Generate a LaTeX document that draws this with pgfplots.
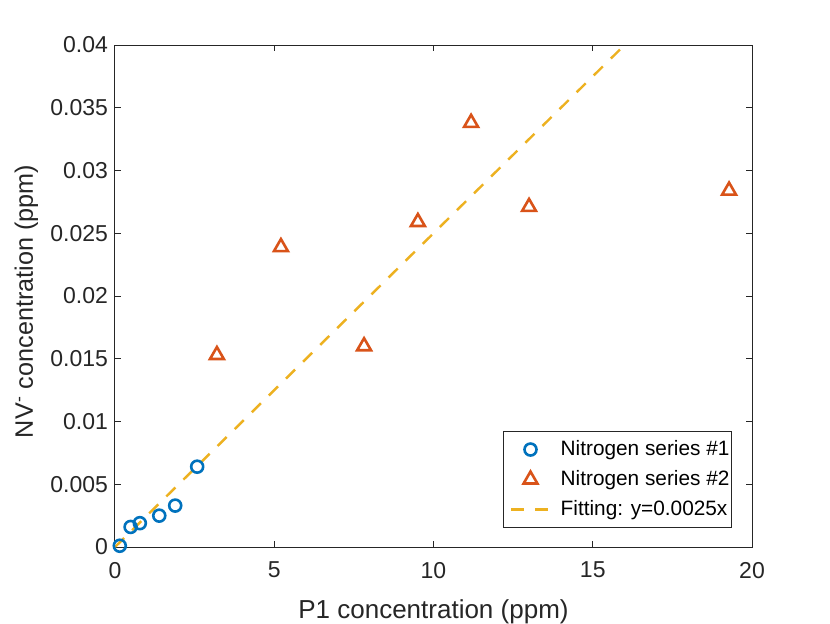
\documentclass[border=0pt]{standalone}
\usepackage{pgfplots}
\pgfplotsset{compat=1.18}
\usepackage{fontspec}
\setmainfont{Liberation Sans}
\definecolor{mblue}{rgb}{0,0.447,0.741}
\definecolor{morange}{rgb}{0.850,0.325,0.098}
\definecolor{myellow}{rgb}{0.929,0.694,0.125}
\definecolor{axgray}{rgb}{0.15,0.15,0.15}
\pgfplotsset{
  marklegend/.style={legend image code/.code={%
    \path[draw=none,fill=none] (-2.5pt,0pt) -- (20.5pt,0pt);
    \draw plot[only marks] coordinates {(10.2pt,0pt)};}},
  linelegend/.style={legend image code/.code={%
    \path[draw=none,fill=none] (-2.5pt,0pt) -- (20.5pt,0pt);
    \draw (0.5pt,0pt) -- (19.3pt,0pt);}},
}
\begin{document}
\begin{tikzpicture}
\fill[white] (0,0) rectangle (415pt,311.5pt);
\useasboundingbox (0,0) rectangle (415pt,311.5pt);
\begin{axis}[
  at={(57.5pt,38pt)}, anchor=south west,
  scale only axis, width=318.5pt, height=251pt,
  xmin=0, xmax=20, ymin=0, ymax=0.04,
  xtick={0,5,10,15,20},
  ytick={0,0.005,0.01,0.015,0.02,0.025,0.03,0.035,0.04},
  scaled y ticks=false,
  yticklabel style={/pgf/number format/fixed,/pgf/number format/precision=3},
  /pgf/number format/assume math mode=true,
  tick align=inside, major tick length=3pt,
  tick style={axgray, line width=0.5pt},
  axis line style={axgray, line width=0.5pt},
  ticklabel style={font=\fontsize{11.5}{13}\selectfont, text=axgray},
  xticklabel style={yshift=-4pt},
  xlabel={P1 concentration (ppm)},
  ylabel={NV\textsuperscript{-} concentration (ppm)},
  xlabel style={font=\fontsize{13}{15}\selectfont, text=axgray,
    at={(axis description cs:0.5,0)}, anchor=base, yshift=-35.5pt},
  ylabel style={font=\fontsize{12.6}{15}\selectfont, text=axgray,
    at={(axis description cs:0,0.5)}, anchor=base, yshift=41pt, xshift=-2.75pt},
  legend cell align=left,
  legend style={at={(0.9686,0.0378)}, anchor=south east, draw=axgray, line width=0.5pt,
    font=\fontsize{10.4}{12}\selectfont, text=black,
    nodes={inner sep=0pt, text height=7.8pt, text depth=2.2pt},
    row sep=5pt, inner xsep=1pt, inner ysep=4pt,
    /tikz/every odd column/.append style={column sep=4.8pt}},
]
\addplot[only marks, mark=o, mark size=3pt, mblue, line width=1.3pt, marklegend] coordinates {
(0.15,0.0001) (0.49,0.0016) (0.78,0.0019) (1.39,0.0025) (1.89,0.0033) (2.58,0.0064)
};
\addlegendentry{Nitrogen series \#1}
\addplot[only marks, mark=triangle, mark size=4pt, morange, line width=1.3pt, marklegend] coordinates {
(3.2,0.0153) (5.21,0.0239) (7.82,0.0160) (9.51,0.0259) (11.18,0.0338) (13.0,0.0271) (19.28,0.0284)
};
\addlegendentry{Nitrogen series \#2}
\addplot[myellow, line width=1.2pt, dash pattern=on 6.4pt off 5.6pt, linelegend] coordinates {(0,0) (16,0.04)};
\addlegendentry{Fitting: y=0.0025x}
\end{axis}
\end{tikzpicture}
\end{document}
